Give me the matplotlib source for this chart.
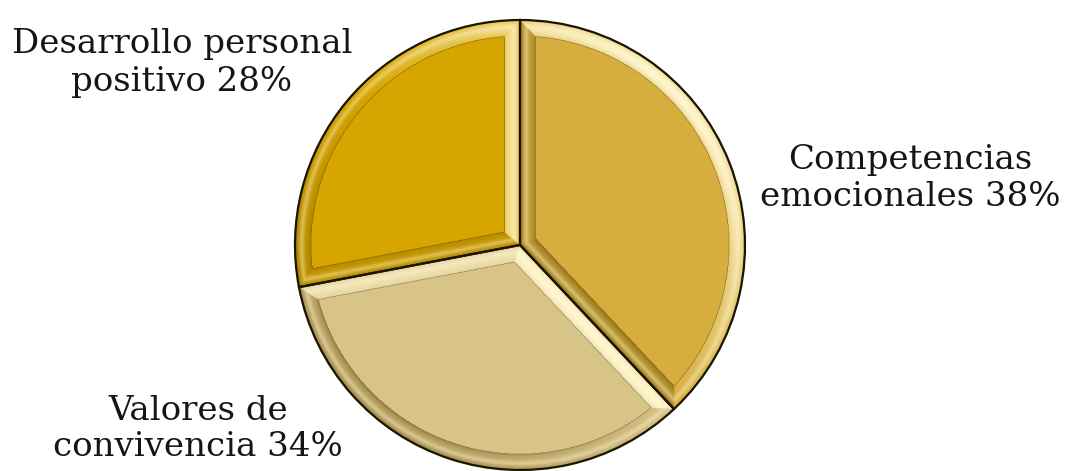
import numpy as np
import matplotlib
matplotlib.use("Agg")
import matplotlib.pyplot as plt
from matplotlib.colors import to_rgb

# datos del grafico
categorias = ["Competencias\nemocionales", "Valores de\nconvivencia", "Desarrollo personal\npositivo"]
porcentajes = [38, 34, 28]
colores = ["#D6AE3E", "#D9C488", "#D6A500"]

fig = plt.figure(figsize=(10.69, 4.71), dpi=100)
ax = fig.add_axes([0, 0, 1, 1])

# pie base (sin bordes)
wedges, _ = ax.pie(porcentajes, colors=colores, startangle=90, counterclock=False,
                   wedgeprops=dict(linewidth=0))

# bisel con sombreado: luz desde arriba a la derecha
bevel = 0.07
luz = np.array([0.7, 0.7])
crema = np.array(to_rgb("#FFF6CF"))
oscuro = np.array(to_rgb("#5E4400"))
n = 700
xs = np.linspace(-1, 1, n)
X, Y = np.meshgrid(xs, xs)
rho = np.hypot(X, Y)
ang = np.degrees(np.arctan2(Y, X)) % 360
img = np.zeros((n, n, 4))

for w, col in zip(wedges, colores):
    t1, t2, r = w.theta1, w.theta2, w.r
    span = t2 - t1
    d1 = (ang - t1) % 360
    dentro = (rho <= r) & (d1 <= span)
    d2 = span - d1
    e1 = np.where(d1 < 90, rho * np.sin(np.radians(d1)), rho)
    e2 = np.where(d2 < 90, rho * np.sin(np.radians(d2)), rho)
    ea = r - rho
    dist = np.stack([ea, e1, e2])
    lado = np.argmin(dist, axis=0)
    s = np.min(dist, axis=0)
    en_bisel = dentro & (s < bevel)

    # normales hacia fuera de cada lado
    na = np.stack([np.cos(np.radians(ang)), np.sin(np.radians(ang))])
    a1 = np.radians(t1 - 90)
    a2 = np.radians(t2 + 90)
    nx = np.choose(lado, [na[0], np.full_like(X, np.cos(a1)), np.full_like(X, np.cos(a2))])
    ny = np.choose(lado, [na[1], np.full_like(X, np.sin(a1)), np.full_like(X, np.sin(a2))])
    ilum = nx * luz[0] + ny * luz[1]

    t = np.clip(s / bevel, 0, 1)
    perfil = np.sin(np.pi * t) ** 0.7  # borde redondeado
    base = np.array(to_rgb(col))
    c = np.zeros(X.shape + (3,)) + base
    k_luz = np.clip(ilum, 0, 1)[..., None] * (0.5 + 0.5 * perfil[..., None])
    k_sombra = np.clip(-ilum, 0, 1)[..., None] * (0.6 - 0.35 * perfil[..., None])
    c = c * (1 - k_luz) + crema * k_luz
    c = c * (1 - k_sombra) + oscuro * k_sombra
    # brillo leve en medio del bisel
    brillo = 0.4 * np.exp(-((t - 0.4) / 0.16) ** 2)[..., None]
    c = c * (1 - brillo) + crema * brillo
    img[en_bisel, :3] = c[en_bisel]
    img[en_bisel, 3] = 1

ax.imshow(img, extent=(-1, 1, -1, 1), origin="lower", interpolation="bilinear", zorder=3)

# contornos
ax.pie(porcentajes, startangle=90, counterclock=False,
       wedgeprops=dict(fill=False, edgecolor="#1a1400", linewidth=1.6, zorder=4))

# etiquetas
pos = [(910, 179), (198, 429), (182, 63)]
for nombre, pct, (px, py) in zip(categorias, porcentajes, pos):
    ax.text(px / 1069, 1 - py / 471, f"{nombre} {pct}%", transform=ax.transAxes,
            ha="center", va="center", fontsize=24.5, family="DejaVu Serif",
            linespacing=1.2, color="#151515")

# centro del pie en (520, 245) px, radio 225 px
cx, cy, rad = 520, 245, 225
ax.set_xlim(-cx / rad, (1069 - cx) / rad)
ax.set_ylim(-(471 - cy) / rad, cy / rad)
ax.set_aspect("auto")
ax.axis("off")

fig.savefig("out.png", dpi=100, facecolor="white")
